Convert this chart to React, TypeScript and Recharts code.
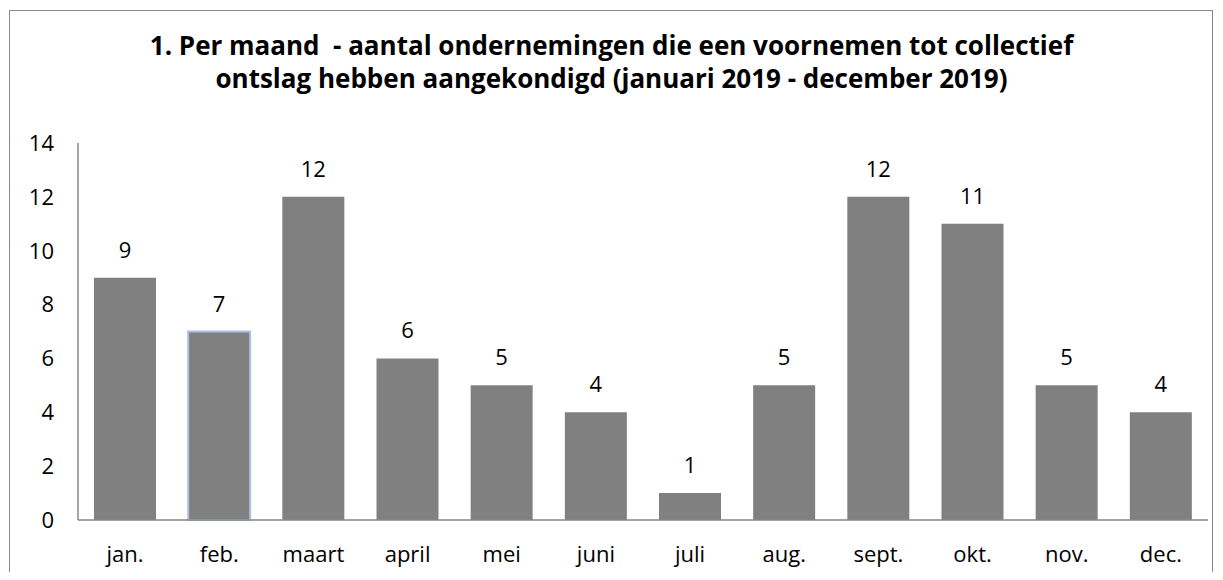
import React from "react";
import { BarChart, Bar, XAxis, YAxis, Cell, LabelList } from "recharts";

// maandelijkse aantallen 2019
const months = ["jan.", "feb.", "maart", "april", "mei", "juni", "juli", "aug.", "sept.", "okt.", "nov.", "dec."];
const counts = [9, 7, 12, 6, 5, 4, 1, 5, 12, 11, 5, 4];
const yTicks = [0, 2, 4, 6, 8, 10, 12, 14];

const data = months.map((m, i) => ({ name: m, aantal: counts[i] }));

const FONT = "'Open Sans', Lato, sans-serif";

const App = () => (
  <div style={{ position: "relative", width: 1223, height: 580, margin: -8, overflow: "hidden", background: "#fff", fontFamily: FONT }}>
    <div
      style={{
        position: "absolute",
        left: 9,
        top: 10,
        width: 1202,
        height: 600,
        border: "1.5px solid #8a8a8a",
      }}
    />
    <div
      style={{
        position: "absolute",
        top: 29,
        left: 0,
        width: 1223,
        textAlign: "center",
        fontWeight: 700,
        fontSize: 26,
        lineHeight: "33px",
        color: "#000",
        whiteSpace: "pre",
      }}
    >
      {"1. Per maand  - aantal ondernemingen die een voornemen tot collectief"}
      <br />
      {"ontslag hebben aangekondigd (januari 2019 - december 2019)"}
    </div>
    <div style={{ position: "absolute", left: 0, top: 0 }}>
      <BarChart width={1223} height={580} data={data} margin={{ top: 143, right: 15, left: 28, bottom: 30 }}>
        <XAxis
          dataKey="name"
          height={30}
          tickLine={false}
          tickSize={0}
          tickMargin={26}
          axisLine={{ stroke: "#878787", strokeWidth: 1.5 }}
          tick={{ fill: "#000", fontSize: 22, fontFamily: FONT }}
          interval={0}
        />
        <YAxis
          width={50}
          domain={[0, 14]}
          ticks={yTicks}
          tickLine={false}
          tickSize={0}
          tickMargin={24}
          axisLine={{ stroke: "#878787", strokeWidth: 1.5 }}
          tick={{ fill: "#000", fontSize: 22, fontFamily: FONT }}
        />
        <Bar dataKey="aantal" fill="#808080" barSize={62} isAnimationActive={false}>
          {data.map((d, i) => (
            <Cell
              key={d.name}
              stroke={d.name === "feb." ? "#a9c0e8" : "none"}
              strokeWidth={d.name === "feb." ? 2 : 0}
            />
          ))}
          <LabelList dataKey="aantal" position="top" offset={20} fill="#000" fontSize={22} fontFamily={FONT} />
        </Bar>
      </BarChart>
    </div>
  </div>
);

export default App;
